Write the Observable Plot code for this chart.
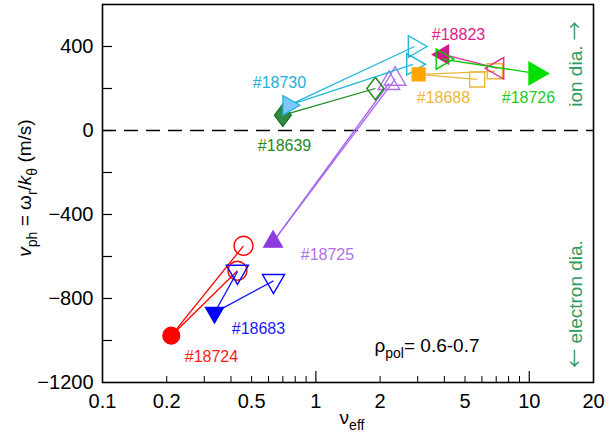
<!DOCTYPE html>
<html><head><meta charset="utf-8">
<script src="https://cdn.jsdelivr.net/npm/d3@7"></script>
<script src="https://cdn.jsdelivr.net/npm/@observablehq/plot@0.6"></script>
<style>
body{margin:0;background:#fff}
svg{font-family:"Liberation Sans",Arial,Helvetica,sans-serif}
</style>
</head><body><div id="chart"></div>
<script>
// ---- data ----
const shots   = ["#18724","#18683","#18725","#18639","#18730","#18688","#18823","#18726"];
const startNu = [0.21, 0.335, 0.63, 0.70, 0.745, 3.03, 3.95, 10.7];
const startV  = [-977, -867, -530, 73, 120, 267, 362, 272];
const endShot = ["#18724","#18724","#18683","#18683","#18725","#18725","#18639","#18730","#18730","#18688","#18688","#18823","#18726"];
const endNu   = [0.458, 0.429, 0.429, 0.633, 2.2, 2.35, 1.9, 2.9, 2.85, 5.7, 6.9, 7.1, 3.9];
const endV    = [-549, -668, -672, -716, 225, 245, 200, 400, 315, 243, 282, 296, 340];
const labelNu = [0.324, 0.538, 1.133, 0.713, 0.675, 3.96, 4.66, 9.91];
const labelV  = [-1076, -943, -592, -75, 225, 153, 457, 153];
const xTickValues = [0.1, 0.2, 0.5, 1, 2, 5, 10, 20];
const xMinorTicks = [0.2,0.3,0.4,0.5,0.6,0.7,0.8,0.9,2,3,4,5,6,7,8,9];
const xMajorTicks = [1, 10];
const yTickValues = [-1200, -800, -400, 0, 400];
const yAllTicks   = [-1000, -800, -600, -400, -200, 0, 200, 400];

// ---- styles ----
function shape(pts){return {draw(ctx,size){const r=Math.sqrt(size/Math.PI);pts.forEach(([a,b],i)=>i?ctx.lineTo(a*r,b*r):ctx.moveTo(a*r,b*r));ctx.closePath();}};}
function tri(deg){const p=[];for(let i=0;i<3;i++){const a=(deg+120*i)*Math.PI/180;p.push([1.555*Math.cos(a),1.555*Math.sin(a)]);}return shape(p);}
const SYM = {circle:"circle", square:"square", up:tri(-90), down:tri(90), left:tri(180), right:tri(0),
             diamond:shape([[0,-1.2],[0.9,0],[0,1.2],[-0.9,0]])};
const look = {
  "#18724":{sym:"circle", fill:"#ff0000", edge:"#ff0000", line:"#ff0000", open:"#ff0000", text:"#ff1a1a", rf:8.5, ro:9.5},
  "#18683":{sym:"down",   fill:"#0000ff", edge:"#0000ff", line:"#1a1aff", open:"#0000ff", text:"#1a1aff", rf:6.8, ro:8.2},
  "#18725":{sym:"up",     fill:"#8c3be0", edge:"#8c3be0", line:"#a566f0", open:"#b070f0", text:"#b070e8", rf:7,   ro:8},
  "#18639":{sym:"diamond",fill:"#2e8b40", edge:"#1e6b2e", line:"#1a8a1a", open:"#1a8a1a", text:"#228b22", rf:9.4, ro:9.4},
  "#18730":{sym:"right",  fill:"#7cc8f8", edge:"#20b0e0", line:"#20b8d8", open:"#20b8d8", text:"#22b0d8", rf:7.3, ro:8},
  "#18688":{sym:"square", fill:"#ffa500", edge:"#ffa500", line:"#e8b838", open:"#e8b838", text:"#f0b838", rf:7.3, ro:8.5},
  "#18823":{sym:"left",   fill:"#d0188a", edge:"#d0188a", line:"#e0308f", open:"#e0308f", text:"#e0208a", rf:7,   ro:8},
  "#18726":{sym:"right",  fill:"#00e000", edge:"#00e000", line:"#00cc00", open:"#00cc00", text:"#22cc22", rf:8.5, ro:7.5}
};

// ---- tables ----
const starts = shots.map((s,i)=>({shot:s, nu:startNu[i], v:startV[i]}));
const ends = endShot.map((s,i)=>({shot:s, nu:endNu[i], v:endV[i]}));
const segs = ends.map(e=>{const s=starts.find(d=>d.shot===e.shot);return {shot:e.shot,x1:s.nu,y1:s.v,x2:e.nu,y2:e.v};});
const labels = shots.map((s,i)=>({shot:s, nu:labelNu[i], v:labelV[i]}));

const W=612,H=436,ML=102,MR=19,MT=4,MB=54;
const marks = [Plot.ruleY([0],{stroke:"black",strokeWidth:1.5,strokeDasharray:"14,8"})];
for (const s of shots){
  const L=look[s];
  marks.push(Plot.link(segs.filter(d=>d.shot===s),{x1:"x1",y1:"y1",x2:"x2",y2:"y2",stroke:L.line,strokeWidth:1.3}));
  marks.push(Plot.dot(ends.filter(d=>d.shot===s),{x:"nu",y:"v",symbol:SYM[L.sym],r:L.ro,fill:"none",stroke:L.open,strokeWidth:1.4}));
  marks.push(Plot.dot(starts.filter(d=>d.shot===s),{x:"nu",y:"v",symbol:SYM[L.sym],r:L.rf,fill:L.fill,stroke:L.edge,strokeWidth:1.2}));
}
marks.push(Plot.text(labels,{x:"nu",y:"v",text:"shot",fill:d=>look[d.shot].text,fontSize:16}));
marks.push(Plot.tickX(xMinorTicks,{x:d=>d,insetTop:H-MT-MB-6,stroke:"black",strokeWidth:1}));
marks.push(Plot.tickX(xMajorTicks,{x:d=>d,insetTop:H-MT-MB-11,stroke:"black",strokeWidth:1.2}));
marks.push(Plot.tickY(yAllTicks,{y:d=>d,insetRight:W-ML-MR-10,stroke:"black",strokeWidth:1.2}));
marks.push(Plot.frame({stroke:"black",strokeWidth:1.6}));

const svg = Plot.plot({
  width:W, height:H, marginLeft:ML, marginRight:MR, marginTop:MT, marginBottom:MB,
  style:{fontFamily:'"Liberation Sans",Arial,sans-serif', fontSize:"20px", color:"black", background:"white"},
  color:{type:"identity"},
  x:{type:"log", domain:[0.1,20], ticks:xTickValues, tickFormat:d=>String(d), tickSize:0, tickPadding:11, label:null},
  y:{domain:[-1200,600], ticks:yTickValues, tickFormat:d=>d<0?"\u2212"+Math.abs(d):String(d), tickSize:0, tickPadding:9, label:null},
  marks
});
document.getElementById("chart").appendChild(svg);

// ---- rich text labels ----
const g = d3.select(svg).append("g").attr("font-family",'"Liberation Sans",Arial,sans-serif').attr("font-size",19);
function rich(t, parts){
  let shift=0;
  for(const [str,opt] of parts){
    const ts=t.append("tspan").text(str);
    const want = opt&&opt.sub?6:0;
    if(want!==shift){ts.attr("dy",want-shift);shift=want;}
    if(opt&&opt.sub) ts.attr("font-size",14);
    if(opt&&opt.it) ts.attr("font-style","italic");
    if(opt&&opt.arrow) ts.attr("font-family",'"Noto Sans CJK SC"').attr("font-size",19);
  }
}
// y label
rich(g.append("text").attr("transform","translate(31,188) rotate(-90)").attr("text-anchor","middle"),
  [["v",{it:1}],["ph",{sub:1}],[" = \u03c9"],["r",{sub:1}],["/"],["k",{it:1}],["\u03b8",{sub:1}],[" (m/s)"]]);
// x label
rich(g.append("text").attr("transform","translate(352,424)").attr("text-anchor","middle"),
  [["\u03bd"],["eff",{sub:1}]]);
// rho annotation
rich(g.append("text").attr("transform","translate(427,352)"),
  [["\u03c1"],["pol",{sub:1}],["= 0.6-0.7"]]);
// direction annotations
rich(g.append("text").attr("transform","translate(582,64) rotate(-90)").attr("text-anchor","middle").attr("fill","#2e9a5e"),
  [["ion dia. "],["\u2192",{arrow:1}]]);
rich(g.append("text").attr("transform","translate(582,304) rotate(-90)").attr("text-anchor","middle").attr("fill","#2e9a5e"),
  [["\u2190",{arrow:1}],[" electron dia."]]);
</script>
</body></html>
